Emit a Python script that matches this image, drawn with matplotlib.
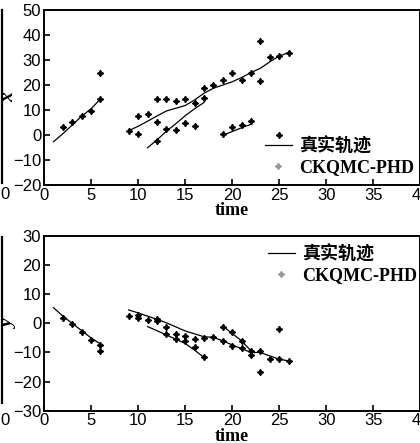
import matplotlib.pyplot as plt
from matplotlib.lines import Line2D

plt.rcParams['font.family'] = ['Liberation Sans', 'Noto Sans CJK SC']

# true trajectories, x coordinate
t_a = [1, 2, 3, 4, 5, 6]
t_b = [9, 10, 11, 12, 13, 14, 15, 16, 17, 18, 19, 20, 21, 22, 23, 24, 25, 26]
t_c = [11, 12, 13, 14, 15, 16, 17]
t_d = [19, 20, 21, 22]

x_a = [-2.7, 0.5, 4.0, 7.5, 10.5, 14.4]
x_b = [1.7, 3.5, 5.5, 7.6, 9.6, 10.7, 11.8, 14.0, 16.7, 18.7, 20.0, 21.3, 23.0, 25.0, 26.7, 29.3, 31.6, 33.0]
x_c = [-5.1, -2.0, 1.5, 4.5, 7.7, 10.5, 13.0]
x_d = [-0.1, 1.4, 2.9, 4.3]

# true trajectories, y coordinate
y_a = [5.4, 2.5, 0.0, -2.5, -5.0, -7.1]
y_b = [4.6, 3.6, 2.5, 1.4, 0.2, -1.2, -2.6, -3.6, -4.6, -4.8, -6.0, -7.4, -8.7, -10.0, -10.0, -11.2, -12.3, -12.9]
y_c = [-1.1, -2.5, -4.0, -5.4, -6.9, -9.2, -11.7]
y_d = [-0.9, -3.5, -6.0, -9.5]

# CKQMC-PHD estimates
est_t_x = [2, 3, 4, 5, 6, 6, 9, 10, 10, 11, 12, 12, 12, 13, 13, 14, 14, 15, 15, 16, 16,
           17, 17, 18, 19, 19, 20, 20, 21, 21, 22, 22, 23, 23, 24, 25, 25, 26]
est_x = [3.1, 5.2, 7.5, 9.6, 14.4, 24.8, 1.7, 7.7, 0.5, 8.3, 14.3, 5.3, -2.4, 14.5, 2.4,
         13.6, 2.1, 14.5, 4.8, 12.7, 3.7, 18.9, 14.9, 20.0, 21.9, 0.4, 25.0, 3.1, 22.0,
         4.1, 25.0, 5.7, 37.6, 21.6, 31.2, 31.5, 0.0, 32.8]

est_t_y = [2, 3, 4, 5, 6, 6, 9, 10, 10, 11, 12, 12, 13, 13, 14, 14, 15, 15, 16, 16, 17, 17,
           18, 19, 19, 20, 20, 21, 21, 22, 22, 23, 23, 24, 25, 25, 26]
est_y = [1.7, -0.3, -3.0, -5.7, -7.4, -9.6, 2.6, 2.9, 1.7, 1.1, 1.5, 0.9, -1.1, -3.7, -3.7,
         -5.4, -4.2, -6.0, -5.4, -8.0, -5.0, -11.6, -4.8, -1.4, -6.0, -3.1, -7.8, -6.0,
         -8.6, -9.4, -10.8, -9.4, -16.7, -12.1, -1.8, -12.1, -12.8]

star = (4, 1, 0)
serif_cjk = ['Liberation Serif', 'Noto Sans CJK SC']

fig = plt.figure(figsize=(4.2, 4.43), dpi=100)
ax1 = fig.add_axes([0.1048, 0.5824, 0.8962, 0.395])
ax2 = fig.add_axes([0.1048, 0.0729, 0.8962, 0.3943])

panels = [
    (ax1, [x_a, x_b, x_c, x_d], est_t_x, est_x, (-20, 50), 'x', (0.567, 0.315)),
    (ax2, [y_a, y_b, y_c, y_d], est_t_y, est_y, (-30, 30), 'y', (0.575, 0.99)),
]

for ax, tracks, et, ev, ylim, ylab, leg_pos in panels:
    for tt, vv in zip([t_a, t_b, t_c, t_d], tracks):
        ax.plot(tt, vv, color='black', lw=0.9)
    ax.plot(et, ev, linestyle='none', marker=star, ms=4.5, color='black')
    ax.set_xlim(0, 40)
    ax.set_ylim(*ylim)
    ax.set_xticks(range(0, 41, 5))
    ax.set_yticks(range(ylim[0], ylim[1] + 1, 10))
    ax.tick_params(direction='in', labelsize=12, length=4, width=1.2, pad=2)
    for s in ax.spines.values():
        s.set_linewidth(1.4)
    ax.set_xlabel('time', family=serif_cjk, weight='bold', size=13)
    ax.xaxis.set_label_coords(0.5, -0.1)
    ax.set_ylabel(ylab, family='Liberation Serif', weight='bold', style='italic', size=14)
    ax.yaxis.set_label_coords(-0.07, 0.5)
    handles = [Line2D([], [], color='black', lw=0.9),
               Line2D([], [], linestyle='none', marker=star, ms=4.5, color='#999999')]
    ax.legend(handles, ['真实轨迹', 'CKQMC-PHD'], loc='upper left', bbox_to_anchor=leg_pos,
              frameon=False, handlelength=1.5, handletextpad=0.4, labelspacing=0.2,
              borderaxespad=0, prop=dict(family=serif_cjk, weight='bold', size=13))

# edge of the neighbouring panel
fig.add_artist(Line2D([0.005, 0.005], [0.587, 0.977], color='black', lw=1.6))
fig.add_artist(Line2D([0.005, 0.005], [0.09, 0.465], color='black', lw=1.6))
fig.text(0.0, 0.56, '0', fontsize=12, va='center', ha='left')
fig.text(0.0, 0.05, '0', fontsize=12, va='center', ha='left')

fig.savefig('out.png', dpi=100)
